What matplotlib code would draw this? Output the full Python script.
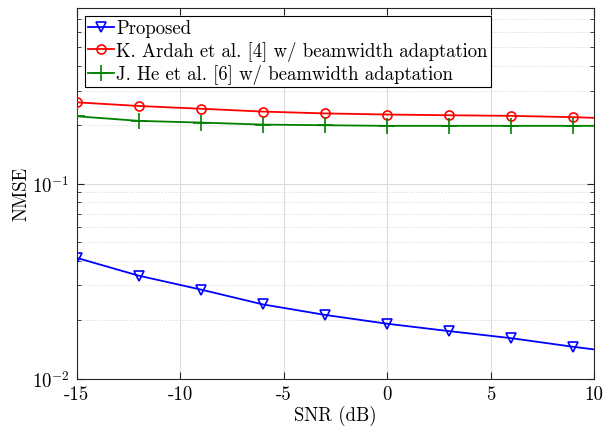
import matplotlib
matplotlib.use("Agg")
import matplotlib.pyplot as plt
from matplotlib.ticker import LogLocator, NullFormatter, FixedLocator

snr = [-15, -12, -9, -6, -3, 0, 3, 6, 9, 10]
proposed = [0.0416, 0.0337, 0.0286, 0.0240, 0.0212, 0.0191, 0.0175, 0.0161, 0.01454, 0.0141]
ardah = [0.261, 0.250, 0.242, 0.234, 0.229, 0.226, 0.224, 0.2225, 0.219, 0.2173]
he = [0.2214, 0.2097, 0.2055, 0.2007, 0.1991, 0.1977, 0.1977, 0.1977, 0.1977, 0.1977]
labels = ["Proposed",
          "K. Ardah et al. [4] w/ beamwidth adaptation",
          "J. He et al. [6] w/ beamwidth adaptation"]
xticks = [-15, -10, -5, 0, 5, 10]
xticklabels = ["-15", "-10", "-5", "0", "5", "10"]

plt.rcParams['font.family'] = 'serif'
plt.rcParams['font.serif'] = ['cmr10', 'DejaVu Serif']
plt.rcParams['mathtext.fontset'] = 'cm'
plt.rcParams['axes.unicode_minus'] = False

FS = 13.5
fig = plt.figure(figsize=(6.04, 4.31), dpi=100)
ax = fig.add_axes([76.5/604, 1-379.5/431, (594-76.5)/604, (379.5-8.5)/431])

mk = list(range(len(snr) - 1))
ax.semilogy(snr, proposed, color=(0, 0, 1), lw=1.3, marker='v', mfc='none',
            mec=(0, 0, 1), ms=6.5, mew=1.2, markevery=mk, label=labels[0], zorder=3)
ax.semilogy(snr, ardah, color=(1, 0, 0), lw=1.3, marker='o', mfc='none',
            mec=(1, 0, 0), ms=6.5, mew=1.2, markevery=mk, label=labels[1], zorder=3)
ax.semilogy(snr, he, color=(0, 0.5, 0), lw=1.3, marker='+', ms=11, mew=1.2,
            markevery=mk, label=labels[2], zorder=3)

ax.set_xlim(-15, 10)
ax.set_ylim(1e-2, 0.8)
ax.set_xticks(xticks)
ax.set_xticklabels(xticklabels)
ax.yaxis.set_major_locator(FixedLocator([1e-2, 1e-1]))
ax.set_yticklabels([r'$10^{-2}$', r'$10^{-1}$'])
ax.yaxis.set_minor_locator(LogLocator(base=10, subs=range(2, 10)))
ax.yaxis.set_minor_formatter(NullFormatter())

ax.grid(True, which='major', axis='both', color='#dcdcdc', lw=0.8, ls='-')
ax.grid(True, which='minor', axis='y', color='#d0d0d0', lw=0.7, ls=(0, (1, 2)))
ax.set_axisbelow(True)

ax.tick_params(which='both', direction='in', top=True, right=True, labelsize=FS, color='#262626')
ax.tick_params(which='major', length=5)
ax.tick_params(axis='x', which='major', pad=5)
ax.tick_params(axis='y', which='major', pad=5)
ax.tick_params(which='minor', length=3)
for s in ax.spines.values():
    s.set_color('#262626')
    s.set_linewidth(0.8)

ax.set_xlabel('SNR (dB)', fontsize=FS, labelpad=1)
ax.set_ylabel('NMSE', fontsize=FS, labelpad=1)

leg = ax.legend(loc='upper left', fontsize=FS, fancybox=False, framealpha=1,
                edgecolor='black', handlelength=1.35, handletextpad=0.15,
                borderaxespad=0.45, borderpad=0.18, labelspacing=0.18)
leg.get_frame().set_linewidth(0.8)

fig.savefig('out.png', dpi=100)
